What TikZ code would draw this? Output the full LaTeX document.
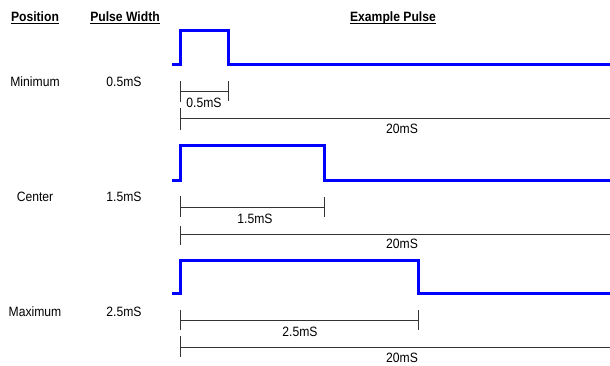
\documentclass[tikz,border=0pt]{standalone}
\usepackage{fontspec}
\setmainfont{Liberation Sans}[FakeStretch=0.9]
\begin{document}
\begin{tikzpicture}[x=1pt,y=-1pt,
  lbl/.style={font=\fontsize{13.5}{15}\selectfont, inner sep=0pt, anchor=base},
  hdr/.style={font=\bfseries\fontsize{13.5}{15}\selectfont, inner sep=0pt, anchor=base},
  pulse/.style={draw=blue, line width=3pt},
  dimline/.style={draw=black!80, line width=0.9pt},
  uline/.style={draw=black, line width=0.9pt}]
\useasboundingbox (0,0) rectangle (610,365);

% headers
\node[hdr] (hpos) at (35,21) {Position};
\node[hdr] (hpw) at (125,21) {Pulse Width};
\node[hdr] (hex) at (393,21) {Example Pulse};
\foreach \n in {hpos,hpw,hex}
  \draw[uline] ([yshift=-2pt]\n.base west) -- ([yshift=-2pt]\n.base east);

% row labels
\node[lbl] (p1) at (35,86) {Minimum};
\node[lbl] (w1) at (124,86) {0.5mS};
\node[lbl] (p2) at (35,201) {Center};
\node[lbl] (w2) at (124,201) {1.5mS};
\node[lbl] (p3) at (35,316) {Maximum};
\node[lbl] (w3) at (124,316) {2.5mS};

% ---- row 1
\coordinate (s1) at (172,64); \coordinate (r1) at (180,64);
\coordinate (rt1) at (180,30); \coordinate (ft1) at (228,30);
\coordinate (f1) at (228,64); \coordinate (e1) at (611,64);
\draw[pulse] (s1) -- (r1) -- (rt1) -- (ft1) -- (f1) -- (e1);
\coordinate (da1) at (180,91.5); \coordinate (db1) at (228,91.5);
\draw[dimline] (da1) -- (db1);
\draw[dimline] (da1) ++(0,-10.5) -- ++(0,21);
\draw[dimline] (db1) ++(0,-10.5) -- ++(0,20);
\node[lbl] (d1) at (204,107) {0.5mS};
\coordinate (ta1) at (180,118); \coordinate (tb1) at (611,118);
\draw[dimline] (ta1) -- (tb1);
\draw[dimline] (ta1) ++(0,-10) -- ++(0,22);
\node[lbl] (t1) at (402,133) {20mS};

% ---- row 2
\coordinate (s2) at (172,180); \coordinate (r2) at (180,180);
\coordinate (rt2) at (180,145.5); \coordinate (ft2) at (324,145.5);
\coordinate (f2) at (324,180); \coordinate (e2) at (611,180);
\draw[pulse] (s2) -- (r2) -- (rt2) -- (ft2) -- (f2) -- (e2);
\coordinate (da2) at (180,207); \coordinate (db2) at (324,207);
\draw[dimline] (da2) -- (db2);
\draw[dimline] (da2) ++(0,-11) -- ++(0,21);
\draw[dimline] (db2) ++(0,-10) -- ++(0,20);
\node[lbl] (d2) at (255,223.5) {1.5mS};
\coordinate (ta2) at (180,234); \coordinate (tb2) at (611,234);
\draw[dimline] (ta2) -- (tb2);
\draw[dimline] (ta2) ++(0,-8) -- ++(0,19);
\node[lbl] (t2) at (402,248.5) {20mS};

% ---- row 3
\coordinate (s3) at (172,293.5); \coordinate (r3) at (180,293.5);
\coordinate (rt3) at (180,260); \coordinate (ft3) at (418,260);
\coordinate (f3) at (418,293.5); \coordinate (e3) at (611,293.5);
\draw[pulse] (s3) -- (r3) -- (rt3) -- (ft3) -- (f3) -- (e3);
\coordinate (da3) at (180,320); \coordinate (db3) at (418,320);
\draw[dimline] (da3) -- (db3);
\draw[dimline] (da3) ++(0,-10) -- ++(0,20);
\draw[dimline] (db3) ++(0,-10) -- ++(0,20);
\node[lbl] (d3) at (300,336.5) {2.5mS};
\coordinate (ta3) at (180,347); \coordinate (tb3) at (611,347);
\draw[dimline] (ta3) -- (tb3);
\draw[dimline] (ta3) ++(0,-11) -- ++(0,21);
\node[lbl] (t3) at (402,362) {20mS};
\end{tikzpicture}
\end{document}
